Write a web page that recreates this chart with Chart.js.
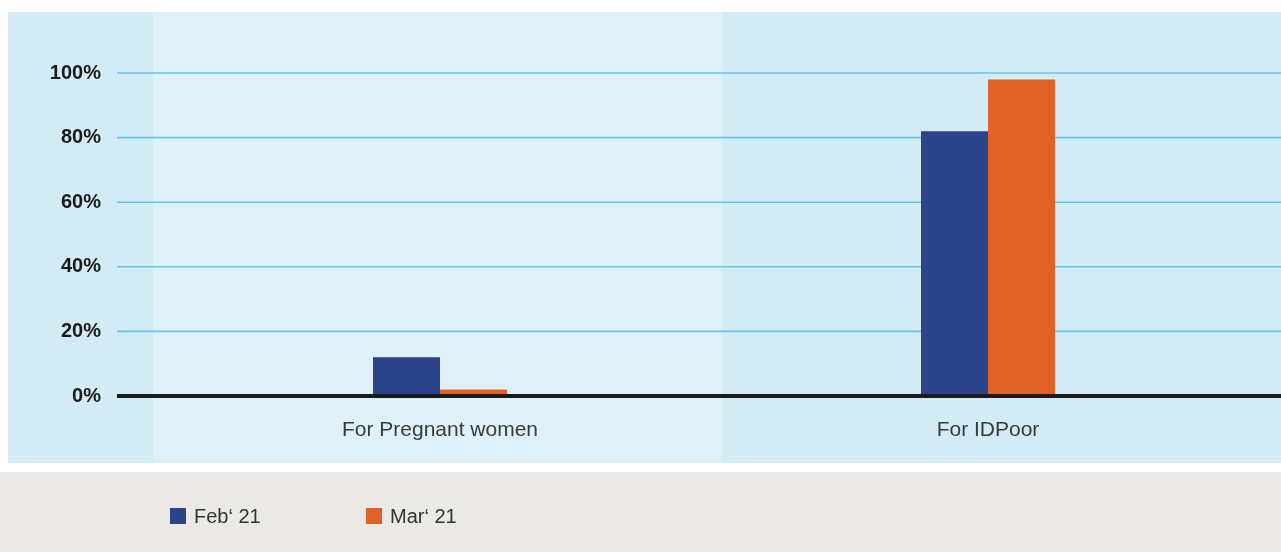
<!DOCTYPE html>
<html>
<head>
<meta charset="utf-8">
<script src="https://cdn.jsdelivr.net/npm/chart.js@4.4.0/dist/chart.umd.min.js"></script>
<style>
  html, body { margin: 0; padding: 0; background: #fff; }
  canvas { display: block; }
</style>
</head>
<body>
<canvas id="chart" width="1281" height="552"></canvas>
<script>
// data
var categories = ["For Pregnant women", "For IDPoor"];
var seriesNames = ["Feb\u2018 21", "Mar\u2018 21"];
var febValues = [12, 82];
var marValues = [2, 98];
var yTicks = [0, 20, 40, 60, 80, 100];

var colors = ["#2b4489", "#e06227"];

var W = 1281, H = 552;

// background panels behind the plot
var panels = {
    plotTop: 12, plotBottom: 463,
    plotLeft: 8, lightLeft: 153, lightRight: 722,
    legendTop: 472
};

var backgroundPlugin = {
    id: 'panels',
    beforeDraw: function(chart) {
        var ctx = chart.ctx;
        ctx.save();
        ctx.fillStyle = "#ffffff";
        ctx.fillRect(0, 0, W, H);
        ctx.fillStyle = "#d3ebf5";
        ctx.fillRect(panels.plotLeft, panels.plotTop, W - panels.plotLeft, panels.plotBottom - panels.plotTop);
        ctx.fillStyle = "#dff1f8";
        ctx.fillRect(panels.lightLeft, panels.plotTop, panels.lightRight - panels.lightLeft, panels.plotBottom - panels.plotTop);
        ctx.fillStyle = "#ebe9e5";
        ctx.fillRect(0, panels.legendTop, W, H - panels.legendTop);
        ctx.restore();
    }
};

// gridlines start left of the plot area, run to the edge
var gridStart = 117;
var gridPlugin = {
    id: 'grid',
    beforeDatasetsDraw: function(chart) {
        var ctx = chart.ctx, y = chart.scales.y;
        ctx.save();
        ctx.strokeStyle = "#66c6e4";
        ctx.lineWidth = 1.6;
        yTicks.forEach(function(v) {
            if (v === 0) return;
            var py = y.getPixelForValue(v);
            ctx.beginPath();
            ctx.moveTo(gridStart, py);
            ctx.lineTo(W, py);
            ctx.stroke();
        });
        ctx.restore();
    },
    afterDatasetsDraw: function(chart) {
        var ctx = chart.ctx, y = chart.scales.y;
        var py = y.getPixelForValue(0);
        ctx.save();
        ctx.strokeStyle = "#1b1b1b";
        ctx.lineWidth = 4;
        ctx.beginPath();
        ctx.moveTo(gridStart, py);
        ctx.lineTo(W, py);
        ctx.stroke();
        ctx.restore();
    }
};

// legend in the grey strip
var legendPlugin = {
    id: 'stripLegend',
    afterDraw: function(chart) {
        var ctx = chart.ctx;
        var xs = [170, 366];
        ctx.save();
        ctx.font = "20px 'Liberation Sans', Arial, sans-serif";
        ctx.textBaseline = "middle";
        chart.data.datasets.forEach(function(ds, i) {
            ctx.fillStyle = ds.backgroundColor;
            ctx.fillRect(xs[i], 508, 16, 16);
            ctx.fillStyle = "#333333";
            ctx.fillText(ds.label, xs[i] + 24, 517);
        });
        ctx.restore();
    }
};

var ctx = document.getElementById("chart").getContext("2d");

new Chart(ctx, {
    type: 'bar',
    data: {
        labels: categories,
        datasets: [
            { label: seriesNames[0], data: febValues, backgroundColor: colors[0], borderWidth: 0 },
            { label: seriesNames[1], data: marValues, backgroundColor: colors[1], borderWidth: 0 }
        ]
    },
    options: {
        responsive: false,
        animation: false,
        layout: { padding: { top: 73, right: 19, left: 0, bottom: 0 } },
        datasets: {
            bar: { barPercentage: 1, categoryPercentage: 0.2445 }
        },
        plugins: {
            legend: { display: false },
            tooltip: { enabled: false },
            title: { display: false }
        },
        scales: {
            x: {
                grid: { display: false },
                border: { display: false },
                ticks: {
                    color: "#3a3a3a",
                    padding: 14,
                    font: { family: "'Liberation Sans', Arial, sans-serif", size: 21 }
                },
                afterFit: function(scale) { scale.height = 156; }
            },
            y: {
                min: 0,
                max: 100,
                afterBuildTicks: function(scale) {
                    scale.ticks = yTicks.map(function(v) { return { value: v }; });
                },
                grid: { display: false },
                border: { display: false },
                ticks: {
                    color: "#1a1a1a",
                    padding: 57,
                    font: { family: "'Liberation Sans', Arial, sans-serif", size: 20, weight: 'bold' },
                    callback: function(v) { return v + "%"; }
                },
                afterFit: function(scale) { scale.width = 166; }
            }
        }
    },
    plugins: [backgroundPlugin, gridPlugin, legendPlugin]
});
</script>
</body>
</html>
